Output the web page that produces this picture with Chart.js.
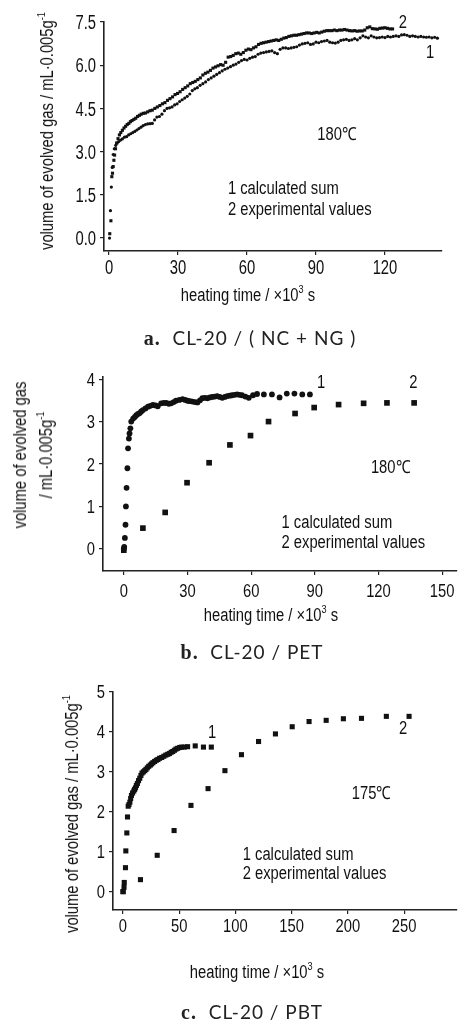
<!DOCTYPE html>
<html>
<head>
<meta charset="utf-8">
<script src="https://cdn.jsdelivr.net/npm/chart.js@4.4.1/dist/chart.umd.min.js"></script>
<style>
  html, body { margin: 0; padding: 0; background: #fff; }
  body { position: relative; width: 461px; height: 1025px; overflow: hidden; }
  .box { position: absolute; left: 0; width: 461px; }
  .txt {
    position: absolute; color: #111; white-space: nowrap;
    font-family: "Liberation Sans", Arial, sans-serif;
    font-size: 18px; line-height: 26px; text-align: center;
    transform: translate(-50%, -50%) scaleX(0.82);
  }
  .rot { transform: translate(-50%, -50%) rotate(-90deg) scaleX(0.82); }
  .cap {
    position: absolute; color: #222; white-space: nowrap;
    font-family: Lato, "Open Sans", sans-serif;
    font-size: 19px; letter-spacing: 1px;
    transform: translate(-50%, -50%);
  }
  .cap b { font-family: "Liberation Serif", serif; font-size: 20px; }
  sup { font-size: 62%; vertical-align: 0.75em; line-height: 0; }
</style>
</head>
<body>

<div class="box" style="top:0;height:290px"><canvas id="chartA"></canvas></div>
<div class="box" style="top:355px;height:260px"><canvas id="chartB"></canvas></div>
<div class="box" style="top:670px;height:290px"><canvas id="chartC"></canvas></div>

<div class="txt rot" style="left:47px;top:131px">volume of evolved gas / mL·0.005g<sup>-1</sup></div>
<div class="txt" style="left:248px;top:295px">heating time / ×10<sup>3</sup> s</div>
<div class="cap" style="left:250px;top:338px"><b>a.</b>&nbsp; CL-20 / ( NC + NG )</div>

<div class="txt rot" style="left:33px;top:455px">volume of evolved gas<br>/ mL·0.005g<sup>-1</sup></div>
<div class="txt" style="left:271px;top:615px">heating time / ×10<sup>3</sup> s</div>
<div class="cap" style="left:252px;top:652px"><b>b.</b>&nbsp; CL-20 / PET</div>

<div class="txt rot" style="left:72px;top:814px">volume of evolved gas / mL·0.005g<sup>-1</sup></div>
<div class="txt" style="left:257px;top:972px">heating time / ×10<sup>3</sup> s</div>
<div class="cap" style="left:252px;top:1012px"><b>c.</b>&nbsp; CL-20 / PBT</div>

<script>
// --- dados (tempo em 10^3 s, volume em mL / 0.005 g) ----------------
const SERIES = ['1 calculated sum', '2 experimental values'];

// a. CL-20/(NC+NG), 180 C
const A1_T = [0.2,0.6,1.0,1.4,1.8,2.3,2.9,3.5,4.2,5.0,5.8,6.7,7.6,8.5,9.4,10.3,11.2,12.1,13.0,13.9,
  14.8,15.8,16.8,17.8,18.8,19.8,20.8,21.9,23.0,24.1,25.2,26.3,27.4,28.5,29.6,30.7,31.8,32.9,34.0,35.1,
  36.2,37.3,38.4,39.6,40.8,42.0,43.2,44.4,45.6,46.8,48.0,49.2,50.4,51.6,52.8,54.0,55.2,56.4,57.6,58.8,
  60.0,61.2,62.4,63.6,64.8,66.0,67.2,68.4,69.6,70.8,72.0,73.2,74.4,75.6,76.8,78.0,79.2,80.4,81.6,82.8,
  84.0,85.2,86.4,87.6,88.8,90.0,91.2,92.4,93.6,94.8,96.0,97.2,98.4,99.6,100.8,102.0,103.2,104.4,105.6,106.8,
  108.0,109.2,110.4,111.6,112.8,114.0,115.2,116.4,117.6,118.8,120.0,121.2,122.4,123.6,124.8,126.0,127.2,128.4,129.6,130.8,
  132.0,133.2,134.4,135.6,136.8,138.0,139.2,140.4,141.6,142.8];
const A1_V = [0.00,0.95,1.77,2.45,2.90,3.10,3.22,3.30,3.35,3.40,3.44,3.50,3.52,3.58,3.62,3.66,3.70,3.75,3.80,3.85,
  3.90,3.94,3.96,3.97,3.98,4.10,4.20,4.22,4.30,4.42,4.50,4.52,4.55,4.62,4.66,4.74,4.80,4.86,4.92,5.00,
  5.12,5.18,5.22,5.30,5.36,5.42,5.50,5.56,5.62,5.68,5.74,5.80,5.86,5.90,5.95,6.00,6.04,6.10,6.16,6.20,
  6.18,6.24,6.28,6.30,6.38,6.42,6.44,6.46,6.48,6.50,6.44,6.40,6.55,6.60,6.60,6.58,6.60,6.62,6.64,6.70,
  6.74,6.76,6.78,6.72,6.74,6.80,6.78,6.82,6.84,6.86,6.80,6.78,6.77,6.80,6.86,6.88,6.90,6.86,6.88,6.92,
  6.88,6.95,7.02,6.98,6.95,7.02,6.98,6.95,6.96,6.98,6.96,7.00,6.98,7.00,7.02,7.00,7.05,7.06,7.04,7.00,
  7.02,7.00,6.98,7.00,6.98,6.97,6.98,6.95,6.97,6.94];
const A2_T = [0.3,0.8,1.2,1.5,1.8,2.1,2.4,2.8,3.3,3.9,4.5,5.1,5.8,6.5,7.2,7.9,8.6,9.3,10.0,10.8,
  11.6,12.4,13.2,14.0,14.9,15.8,16.8,17.8,18.8,19.9,21.0,22.1,23.2,24.3,25.4,26.5,27.6,28.7,29.8,30.9,
  32.0,33.1,34.2,35.3,36.4,37.5,38.6,39.7,40.8,41.9,43.0,44.1,45.2,46.3,47.4,48.5,49.6,50.7,51.8,52.9,
  54.0,55.1,56.2,57.3,58.4,59.5,60.6,61.7,62.8,63.9,65.0,66.1,67.2,68.3,69.4,70.5,71.6,72.7,73.8,74.9,
  76.0,77.1,78.2,79.3,80.4,81.5,82.6,83.7,84.8,85.9,87.0,88.1,89.2,90.3,91.4,92.5,93.6,94.7,95.8,96.9,
  98.0,99.1,100.2,101.3,102.4,103.5,104.6,105.7,106.8,107.9,109.0,110.1,111.2,112.3,113.4,114.5,115.6,116.7,117.8,118.9,
  120.0,121.1,122.2,123.3];
const A2_V = [0.15,0.60,2.13,2.25,2.48,2.70,2.88,3.10,3.30,3.45,3.58,3.66,3.74,3.82,3.88,3.94,3.98,4.04,4.08,4.12,
  4.16,4.22,4.26,4.30,4.33,4.34,4.38,4.42,4.44,4.50,4.55,4.60,4.66,4.70,4.78,4.84,4.90,4.98,5.02,5.08,
  5.16,5.22,5.28,5.36,5.40,5.44,5.50,5.56,5.66,5.72,5.76,5.82,5.90,5.94,5.98,6.02,6.00,6.10,6.28,6.30,
  6.34,6.40,6.42,6.38,6.44,6.52,6.56,6.54,6.60,6.64,6.72,6.76,6.78,6.80,6.82,6.84,6.86,6.88,6.86,6.90,
  6.94,6.96,7.00,7.02,7.04,7.04,7.06,7.08,7.10,7.12,7.12,7.10,7.12,7.14,7.12,7.15,7.18,7.20,7.20,7.20,
  7.22,7.20,7.22,7.22,7.24,7.22,7.20,7.19,7.20,7.18,7.19,7.19,7.22,7.30,7.33,7.27,7.26,7.25,7.28,7.29,
  7.30,7.28,7.26,7.26];
const A_XTICKS = [0, 30, 60, 90, 120];
const A_XLABELS = ['0', '30', '60', '90', '120'];
const A_YTICKS = [0, 1.5, 3, 4.5, 6, 7.5];
const A_YLABELS = ['0.0', '1.5', '3.0', '4.5', '6.0', '7.5'];

// b. CL-20/PET, 180 C
const B1_T = [0.0,0.2,0.5,0.8,1.0,1.3,1.7,2.0,2.4,2.7,3.1,3.5,4.4,5.2,5.9,6.7,7.5,8.2,9.0,10.2,
  11.4,12.5,13.7,15.0,16.0,17.6,18.8,20.0,21.2,22.3,23.5,24.6,26.2,27.7,28.9,30.0,31.2,32.4,33.6,34.7,
  35.9,37.0,38.2,39.4,40.6,41.7,42.9,44.0,45.2,46.4,47.6,48.7,49.9,51.0,52.2,53.4,54.5,55.7,57.3,58.9,
  60.9,62.8,66.0,69.8,73.4,76.8,80.4,84.1,87.7];
const B1_V = [0.00,0.05,0.26,0.57,1.00,1.44,1.90,2.37,2.60,2.72,2.84,3.00,3.07,3.11,3.15,3.18,3.20,3.24,3.27,3.31,
  3.35,3.37,3.39,3.38,3.36,3.43,3.44,3.44,3.42,3.43,3.46,3.49,3.51,3.53,3.51,3.49,3.48,3.47,3.46,3.45,
  3.50,3.55,3.56,3.55,3.57,3.58,3.59,3.60,3.58,3.56,3.58,3.60,3.61,3.62,3.63,3.64,3.63,3.62,3.59,3.56,
  3.62,3.65,3.64,3.64,3.57,3.66,3.66,3.64,3.64];
const B2_T = [0, 9.0, 19.5, 29.8, 40.2, 50.0, 59.7, 68.2, 80.7, 89.7, 101.2, 113.0, 124.0, 136.8];
const B2_V = [-0.03, 0.49, 0.86, 1.56, 2.03, 2.45, 2.67, 3.00, 3.19, 3.33, 3.40, 3.43, 3.44, 3.44];
const B_XTICKS = [0, 30, 60, 90, 120, 150];
const B_XLABELS = ['0', '30', '60', '90', '120', '150'];
const B_YTICKS = [0, 1, 2, 3, 4];
const B_YLABELS = ['0', '1', '2', '3', '4'];

// c. CL-20/PBT, 175 C
const C1_T = [0.3,1.0,1.2,2.3,2.6,3.5,4.1,4.7,5.4,6.2,6.9,7.6,8.6,9.7,10.4,11.2,12.0,12.9,13.9,15.0,
  16.0,17.0,18.2,19.4,20.5,21.7,23.0,24.4,25.5,26.7,28.2,29.7,31.1,32.6,34.5,36.4,38.2,39.9,41.4,42.9,
  44.3,45.8,47.2,48.7,50.5,52.2,54.5,57.5,64.3,71.6,78.6];
const C1_V = [0.00,0.11,0.23,0.60,1.02,1.47,1.87,2.14,2.18,2.24,2.33,2.41,2.47,2.52,2.56,2.60,2.66,2.71,2.78,2.84,
  2.91,2.97,3.00,3.03,3.06,3.10,3.14,3.17,3.20,3.23,3.26,3.29,3.31,3.34,3.36,3.39,3.42,3.44,3.46,3.49,
  3.51,3.54,3.57,3.59,3.61,3.62,3.62,3.63,3.65,3.62,3.62];
const C2_T = [0, 15.6, 30.5, 45.5, 60.5, 75.7, 90.7, 105.4, 120.6, 135.6, 150.5, 165.5, 180.7, 196.0, 212.1, 234.2, 254.4];
const C2_V = [0.00, 0.30, 0.91, 1.53, 2.16, 2.58, 3.03, 3.43, 3.76, 3.95, 4.13, 4.26, 4.29, 4.33, 4.34, 4.39, 4.39];
const C_XTICKS = [0, 50, 100, 150, 200, 250];
const C_XLABELS = ['0', '50', '100', '150', '200', '250'];
const C_YTICKS = [0, 1, 2, 3, 4, 5];
const C_YLABELS = ['0', '1', '2', '3', '4', '5'];

// --- estilo ----------------------------------------------------------
const FONT = '"Liberation Sans", Arial, sans-serif';
const INK = '#111';
const AXIS = '#222';

const pts = (t, v) => t.map((x, i) => ({ x, y: v[i] }));

// texto estreito (tipo Arial Narrow): Arial comprimido na horizontal
function narrowText(ctx, text, x, y, align, baseline, squeeze) {
  ctx.save();
  ctx.translate(x, y);
  ctx.scale(squeeze, 1);
  ctx.textAlign = align;
  ctx.textBaseline = baseline;
  ctx.fillText(text, 0, 0);
  ctx.restore();
}

// rotulos dos ticks + textos internos (notas em coordenadas de dados)
const letteringPlugin = {
  id: 'lettering',
  afterDraw(chart, args, o) {
    const { ctx, scales: { x, y } } = chart;
    ctx.save();
    ctx.fillStyle = INK;
    ctx.font = `${o.tickSize}px ${FONT}`;
    x.ticks.forEach((t, i) =>
      narrowText(ctx, o.xLabels[i], x.getPixelForValue(t.value), x.top + o.xDrop, 'center', 'alphabetic', o.tickSqueeze));
    y.ticks.forEach((t, i) =>
      narrowText(ctx, o.yLabels[i], y.right - 8, y.getPixelForValue(t.value) + o.tickSize * 0.36, 'right', 'alphabetic', o.tickSqueeze));

    ctx.font = `18px ${FONT}`;
    for (const n of o.notes || []) {
      narrowText(ctx, n.text, x.getPixelForValue(n.x), y.getPixelForValue(n.y), n.align || 'center', 'middle', 0.82);
    }
    ctx.restore();
  }
};

function axis(min, max, ticks, fit) {
  return {
    type: 'linear',
    min, max,
    afterBuildTicks: s => { s.ticks = ticks.map(v => ({ value: v })); },
    afterFit: fit,
    border: { display: true, color: AXIS, width: 1.6 },
    grid: { display: true, drawOnChartArea: false, drawTicks: true, tickLength: 4, color: AXIS, lineWidth: 1.2 },
    ticks: { display: false },
  };
}

function renderPanel(canvasId, p) {
  const ctx = document.getElementById(canvasId)?.getContext('2d');
  if (!ctx) return null;

  return new Chart(ctx, {
    type: 'scatter',
    data: {
      datasets: [
        {
          label: SERIES[0],
          data: p.calc,
          pointStyle: p.calcStyle,
          pointRadius: p.calcRadius,
          pointBorderWidth: 0,
          backgroundColor: INK,
        },
        {
          label: SERIES[1],
          data: p.exp,
          pointStyle: 'rect',
          pointRadius: p.expRadius,
          pointBorderWidth: 0,
          backgroundColor: INK,
        }
      ]
    },
    options: {
      responsive: true,
      maintainAspectRatio: false,
      animation: false,
      events: [],
      layout: { padding: { left: 0, top: p.top, right: p.right, bottom: 0 } },
      plugins: {
        legend: { display: false },
        tooltip: { enabled: false },
        lettering: p.lettering,
      },
      scales: {
        x: axis(p.xmin, p.xmax, p.xticks, s => { s.height = p.xh; }),
        y: axis(p.ymin, p.ymax, p.yticks, s => { s.width = p.yw; }),
      }
    },
    plugins: [letteringPlugin]
  });
}

renderPanel('chartA', {
  calc: pts(A1_T, A1_V), exp: pts(A2_T, A2_V),
  calcStyle: 'circle', calcRadius: 1.6, expRadius: 2.2,
  xmin: -2.2, xmax: 144.8, ymin: -0.45, ymax: 7.5,
  xticks: A_XTICKS, yticks: A_YTICKS,
  top: 22, right: 19, yw: 104, xh: 39,
  lettering: {
    tickSize: 20, tickSqueeze: 0.74, xDrop: 23,
    xLabels: A_XLABELS, yLabels: A_YLABELS,
    notes: [
      { x: 127.8, y: 7.47, text: '2' },
      { x: 139.6, y: 6.42, text: '1' },
      { x: 99.1, y: 3.58, text: '180\u2103' },
      { x: 51.7, y: 1.70, text: SERIES[0], align: 'left' },
      { x: 51.7, y: 0.97, text: SERIES[1], align: 'left' },
    ]
  }
});

renderPanel('chartB', {
  calc: pts(B1_T, B1_V), exp: pts(B2_T, B2_V),
  calcStyle: 'circle', calcRadius: 2.9, expRadius: 4.0,
  xmin: -9.8, xmax: 157, ymin: -0.52, ymax: 4.05,
  xticks: B_XTICKS, yticks: B_YTICKS,
  top: 22, right: 0, yw: 103, xh: 44,
  lettering: {
    tickSize: 18, tickSqueeze: 0.82, xDrop: 26,
    xLabels: B_XLABELS, yLabels: B_YLABELS,
    notes: [
      { x: 93.0, y: 3.91, text: '1' },
      { x: 136.4, y: 3.91, text: '2' },
      { x: 125.7, y: 1.91, text: '180\u2103' },
      { x: 74.3, y: 0.61, text: SERIES[0], align: 'left' },
      { x: 74.3, y: 0.14, text: SERIES[1], align: 'left' },
    ]
  }
});

renderPanel('chartC', {
  calc: pts(C1_T, C1_V), exp: pts(C2_T, C2_V),
  calcStyle: 'rect', calcRadius: 3.6, expRadius: 3.6,
  xmin: -8.8, xmax: 297, ymin: -0.46, ymax: 5,
  xticks: C_XTICKS, yticks: C_YTICKS,
  top: 22, right: 0, yw: 113, xh: 50,
  lettering: {
    tickSize: 18, tickSqueeze: 0.82, xDrop: 22,
    xLabels: C_XLABELS, yLabels: C_YLABELS,
    notes: [
      { x: 79.2, y: 3.97, text: '1' },
      { x: 249.0, y: 4.06, text: '2' },
      { x: 221.0, y: 2.45, text: '175\u2103' },
      { x: 106.5, y: 0.92, text: SERIES[0], align: 'left' },
      { x: 106.5, y: 0.44, text: SERIES[1], align: 'left' },
    ]
  }
});
</script>
</body>
</html>
